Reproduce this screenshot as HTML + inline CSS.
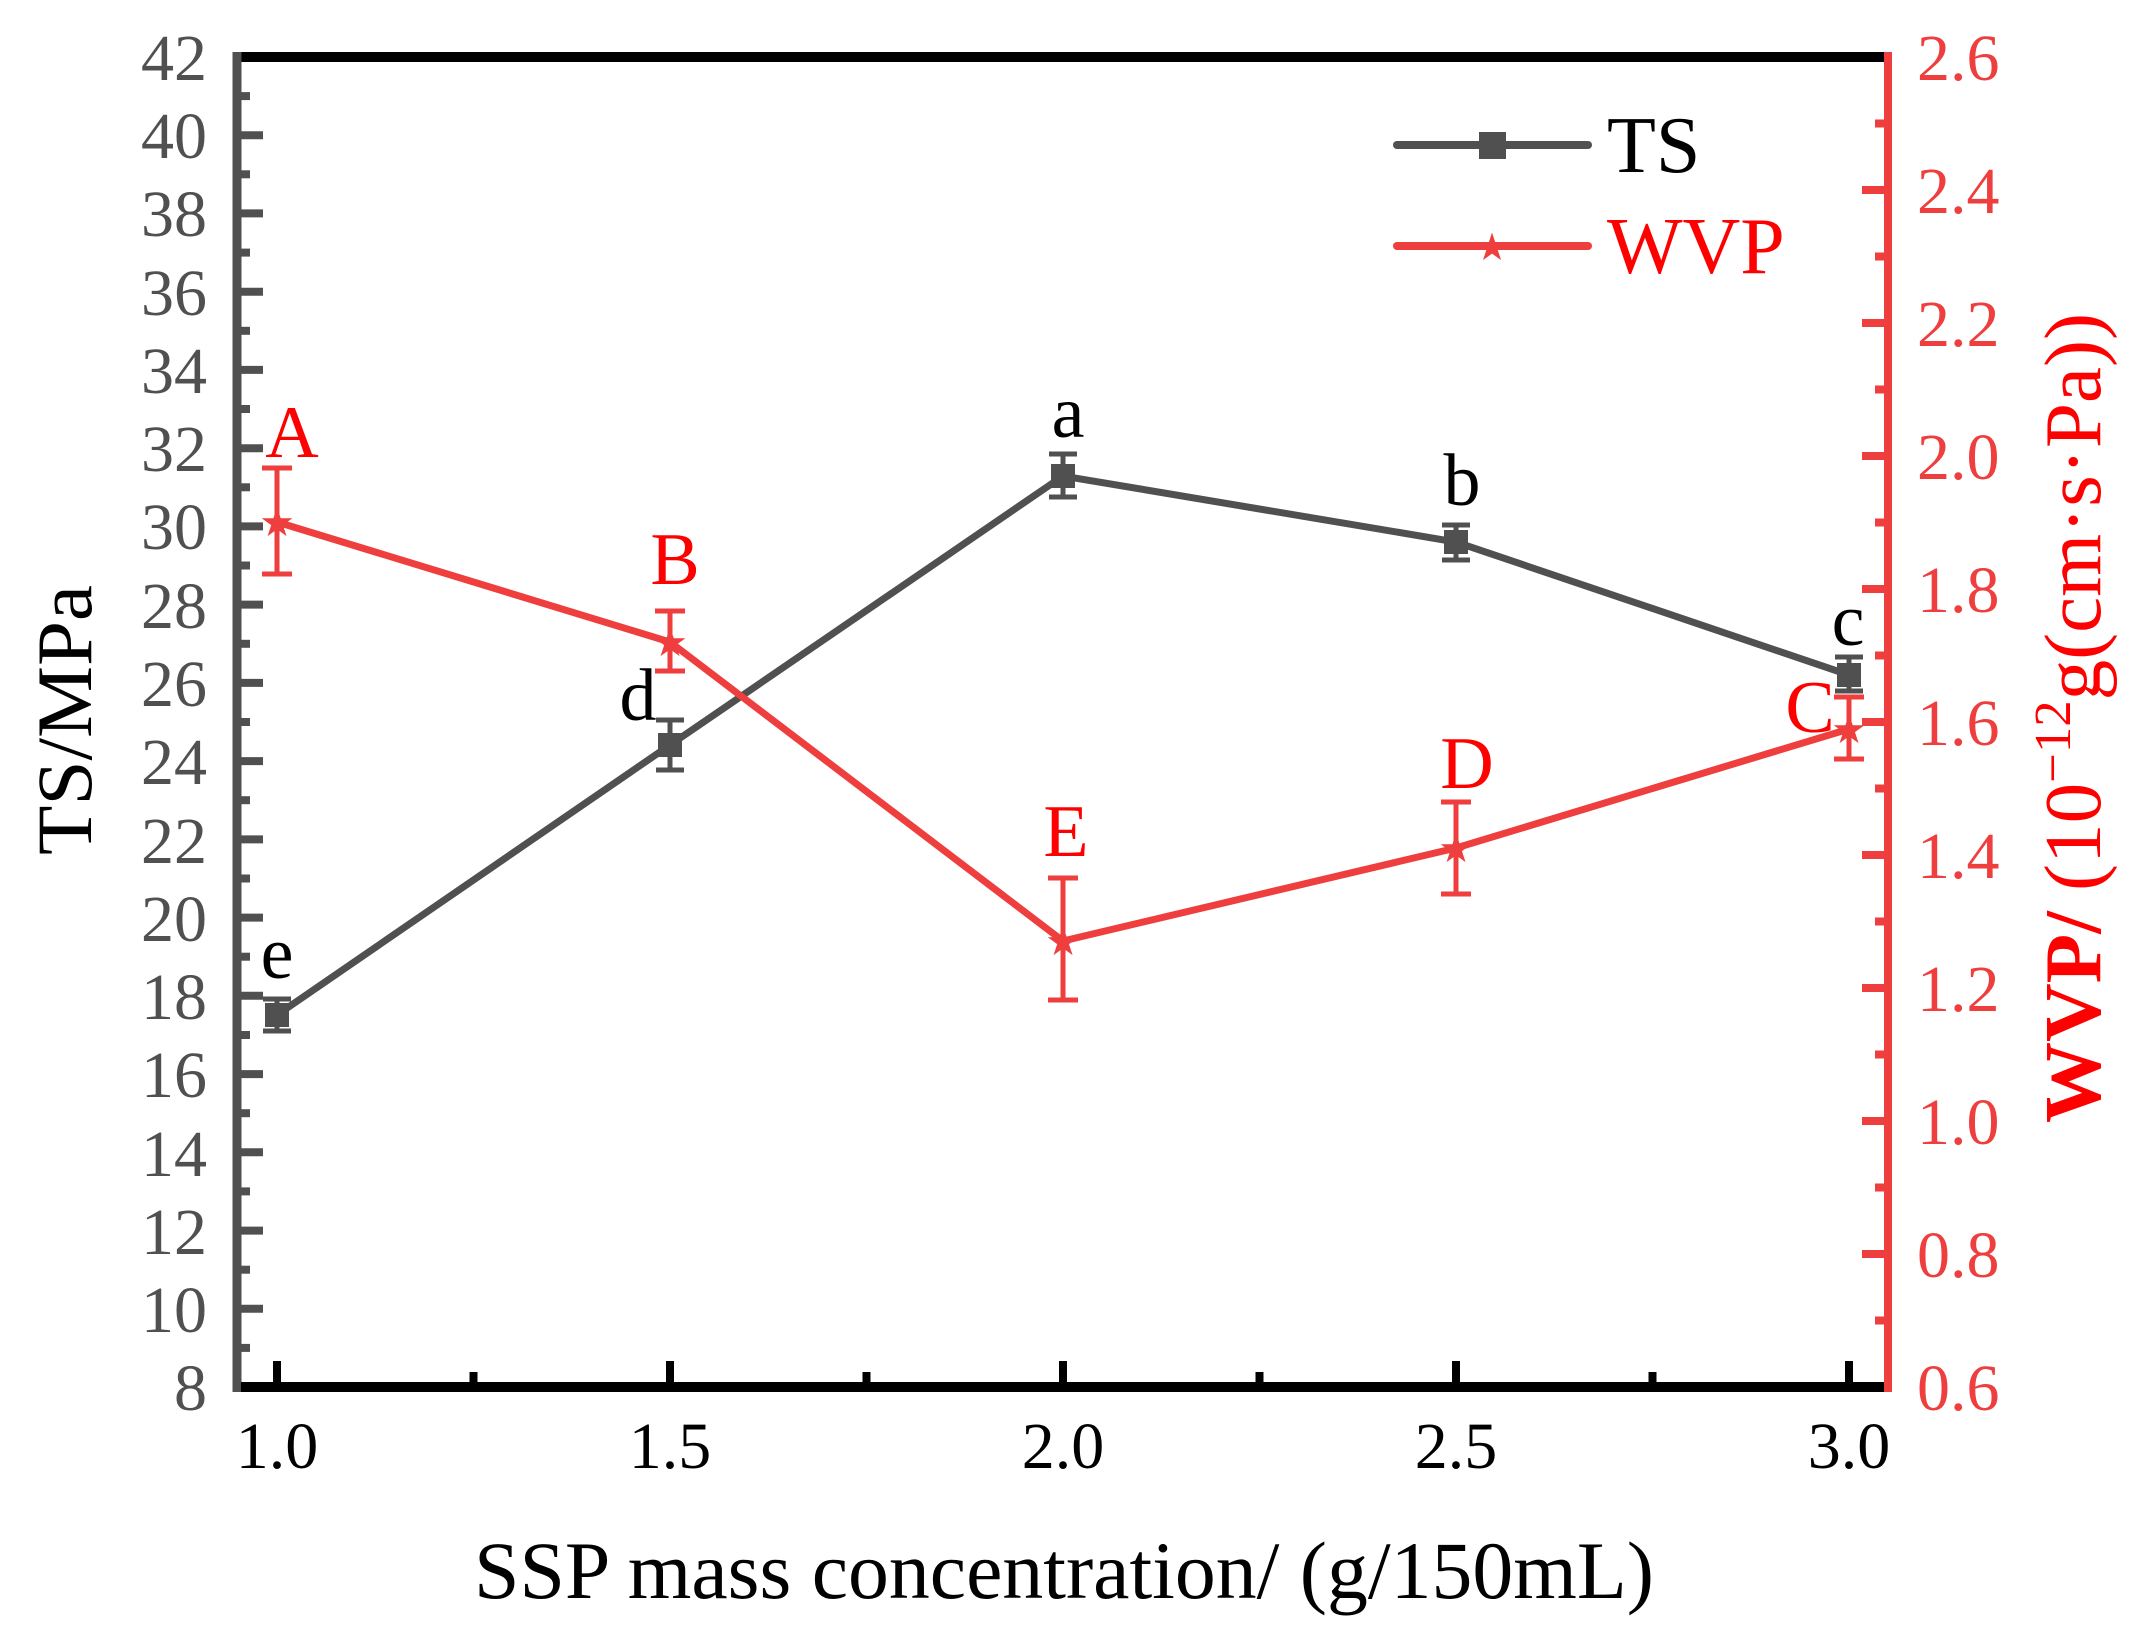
<!DOCTYPE html>
<html><head><meta charset="utf-8"><style>
html,body{margin:0;padding:0;background:#fff;}
svg{display:block;}
text{font-family:"Liberation Serif",serif;}
</style></head><body>
<svg width="2138" height="1638" viewBox="0 0 2138 1638" xmlns="http://www.w3.org/2000/svg">
<rect width="2138" height="1638" fill="#fff"/>
<line x1="233" y1="57" x2="1892" y2="57" stroke="#000" stroke-width="10"/>
<line x1="237" y1="52" x2="237" y2="1392" stroke="#505050" stroke-width="9"/>
<line x1="241" y1="1387" x2="1888" y2="1387" stroke="#000" stroke-width="10"/>
<line x1="1888" y1="52" x2="1888" y2="1392" stroke="#ee3e3e" stroke-width="8"/>
<g stroke="#505050" stroke-width="8">
<line x1="241" y1="135.2" x2="263" y2="135.2"/><line x1="241" y1="213.4" x2="263" y2="213.4"/><line x1="241" y1="291.7" x2="263" y2="291.7"/><line x1="241" y1="369.9" x2="263" y2="369.9"/><line x1="241" y1="448.2" x2="263" y2="448.2"/><line x1="241" y1="526.4" x2="263" y2="526.4"/><line x1="241" y1="604.6" x2="263" y2="604.6"/><line x1="241" y1="682.9" x2="263" y2="682.9"/><line x1="241" y1="761.1" x2="263" y2="761.1"/><line x1="241" y1="839.4" x2="263" y2="839.4"/><line x1="241" y1="917.6" x2="263" y2="917.6"/><line x1="241" y1="995.8" x2="263" y2="995.8"/><line x1="241" y1="1074.1" x2="263" y2="1074.1"/><line x1="241" y1="1152.3" x2="263" y2="1152.3"/><line x1="241" y1="1230.6" x2="263" y2="1230.6"/><line x1="241" y1="1308.8" x2="263" y2="1308.8"/>
<line x1="241" y1="96.1" x2="250" y2="96.1"/><line x1="241" y1="174.3" x2="250" y2="174.3"/><line x1="241" y1="252.6" x2="250" y2="252.6"/><line x1="241" y1="330.8" x2="250" y2="330.8"/><line x1="241" y1="409.0" x2="250" y2="409.0"/><line x1="241" y1="487.3" x2="250" y2="487.3"/><line x1="241" y1="565.5" x2="250" y2="565.5"/><line x1="241" y1="643.8" x2="250" y2="643.8"/><line x1="241" y1="722.0" x2="250" y2="722.0"/><line x1="241" y1="800.2" x2="250" y2="800.2"/><line x1="241" y1="878.5" x2="250" y2="878.5"/><line x1="241" y1="956.7" x2="250" y2="956.7"/><line x1="241" y1="1035.0" x2="250" y2="1035.0"/><line x1="241" y1="1113.2" x2="250" y2="1113.2"/><line x1="241" y1="1191.4" x2="250" y2="1191.4"/><line x1="241" y1="1269.7" x2="250" y2="1269.7"/><line x1="241" y1="1347.9" x2="250" y2="1347.9"/>
</g>
<g stroke="#ee3e3e" stroke-width="8">
<line x1="1884" y1="190" x2="1862" y2="190"/><line x1="1884" y1="323" x2="1862" y2="323"/><line x1="1884" y1="456" x2="1862" y2="456"/><line x1="1884" y1="589" x2="1862" y2="589"/><line x1="1884" y1="722" x2="1862" y2="722"/><line x1="1884" y1="855" x2="1862" y2="855"/><line x1="1884" y1="988" x2="1862" y2="988"/><line x1="1884" y1="1121" x2="1862" y2="1121"/><line x1="1884" y1="1254" x2="1862" y2="1254"/>
<line x1="1884" y1="123.5" x2="1875" y2="123.5"/><line x1="1884" y1="256.5" x2="1875" y2="256.5"/><line x1="1884" y1="389.5" x2="1875" y2="389.5"/><line x1="1884" y1="522.5" x2="1875" y2="522.5"/><line x1="1884" y1="655.5" x2="1875" y2="655.5"/><line x1="1884" y1="788.5" x2="1875" y2="788.5"/><line x1="1884" y1="921.5" x2="1875" y2="921.5"/><line x1="1884" y1="1054.5" x2="1875" y2="1054.5"/><line x1="1884" y1="1187.5" x2="1875" y2="1187.5"/><line x1="1884" y1="1320.5" x2="1875" y2="1320.5"/>
</g>
<g stroke="#000" stroke-width="8">
<line x1="277" y1="1382" x2="277" y2="1361"/><line x1="670" y1="1382" x2="670" y2="1361"/><line x1="1063" y1="1382" x2="1063" y2="1361"/><line x1="1456" y1="1382" x2="1456" y2="1361"/><line x1="1849" y1="1382" x2="1849" y2="1361"/>
<line x1="473.5" y1="1382" x2="473.5" y2="1372"/><line x1="866.5" y1="1382" x2="866.5" y2="1372"/><line x1="1259.5" y1="1382" x2="1259.5" y2="1372"/><line x1="1652.5" y1="1382" x2="1652.5" y2="1372"/>
</g>
<g fill="#505050" font-size="66" text-anchor="end">
<text x="207" y="80">42</text><text x="207" y="158">40</text><text x="207" y="236">38</text><text x="207" y="315">36</text><text x="207" y="393">34</text><text x="207" y="471">32</text><text x="207" y="549">30</text><text x="207" y="628">28</text><text x="207" y="706">26</text><text x="207" y="784">24</text><text x="207" y="863">22</text><text x="207" y="941">20</text><text x="207" y="1019">18</text><text x="207" y="1097">16</text><text x="207" y="1176">14</text><text x="207" y="1254">12</text><text x="207" y="1332">10</text><text x="207" y="1410">8</text>
</g>
<g fill="#ee3e3e" font-size="66">
<text x="1917" y="80">2.6</text><text x="1917" y="213">2.4</text><text x="1917" y="346">2.2</text><text x="1917" y="479">2.0</text><text x="1917" y="612">1.8</text><text x="1917" y="745">1.6</text><text x="1917" y="878">1.4</text><text x="1917" y="1011">1.2</text><text x="1917" y="1144">1.0</text><text x="1917" y="1277">0.8</text><text x="1917" y="1410">0.6</text>
</g>
<g fill="#000" font-size="66" text-anchor="middle">
<text x="277" y="1468">1.0</text><text x="670" y="1468">1.5</text><text x="1063" y="1468">2.0</text><text x="1456" y="1468">2.5</text><text x="1849" y="1468">3.0</text>
</g>
<text x="474" y="1598" font-size="82" fill="#000" textLength="1180" lengthAdjust="spacingAndGlyphs">SSP mass concentration/ (g/150mL)</text>
<text transform="translate(91,855) rotate(-90)" font-size="78" fill="#000" textLength="270" lengthAdjust="spacingAndGlyphs">TS/MPa</text>
<text transform="translate(2100,1123) rotate(-90)" font-size="80" fill="#ff0000" textLength="810" lengthAdjust="spacingAndGlyphs"><tspan font-weight="bold">WVP/ </tspan>(10<tspan font-size="52" dy="-30">−12</tspan><tspan dy="30">g(cm·s·Pa))</tspan></text>
<polyline points="277,1015 670,745 1063,476 1456,542 1849,675" fill="none" stroke="#505050" stroke-width="7"/>
<g stroke="#505050" stroke-width="5">
<line x1="277" y1="999" x2="277" y2="1031"/><line x1="263" y1="999" x2="291" y2="999"/><line x1="263" y1="1031" x2="291" y2="1031"/>
<line x1="670" y1="720" x2="670" y2="770"/><line x1="656" y1="720" x2="684" y2="720"/><line x1="656" y1="770" x2="684" y2="770"/>
<line x1="1063" y1="454" x2="1063" y2="497"/><line x1="1049" y1="454" x2="1077" y2="454"/><line x1="1049" y1="497" x2="1077" y2="497"/>
<line x1="1456" y1="525" x2="1456" y2="560"/><line x1="1442" y1="525" x2="1470" y2="525"/><line x1="1442" y1="560" x2="1470" y2="560"/>
<line x1="1849" y1="657" x2="1849" y2="691"/><line x1="1835" y1="657" x2="1863" y2="657"/><line x1="1835" y1="691" x2="1863" y2="691"/>
</g>
<g fill="#505050">
<rect x="265" y="1003" width="24" height="24"/><rect x="658" y="733" width="24" height="24"/><rect x="1051" y="464" width="24" height="24"/><rect x="1444" y="530" width="24" height="24"/><rect x="1837" y="663" width="24" height="24"/>
</g>
<polyline points="277,522 670,642 1063,941 1456,848 1849,729" fill="none" stroke="#ee3e3e" stroke-width="7"/>
<g stroke="#ee3e3e" stroke-width="5">
<line x1="277" y1="468" x2="277" y2="574"/><line x1="262" y1="468" x2="292" y2="468"/><line x1="262" y1="574" x2="292" y2="574"/>
<line x1="670" y1="611" x2="670" y2="671"/><line x1="655" y1="611" x2="685" y2="611"/><line x1="655" y1="671" x2="685" y2="671"/>
<line x1="1063" y1="878" x2="1063" y2="1000"/><line x1="1048" y1="878" x2="1078" y2="878"/><line x1="1048" y1="1000" x2="1078" y2="1000"/>
<line x1="1456" y1="802" x2="1456" y2="894"/><line x1="1441" y1="802" x2="1471" y2="802"/><line x1="1441" y1="894" x2="1471" y2="894"/>
<line x1="1849" y1="697" x2="1849" y2="759"/><line x1="1834" y1="697" x2="1864" y2="697"/><line x1="1834" y1="759" x2="1864" y2="759"/>
</g>
<g fill="#ee3e3e" font-size="40" text-anchor="middle" font-family="DejaVu Sans">
<text x="277" y="536">★</text><text x="670" y="656">★</text><text x="1063" y="955">★</text><text x="1456" y="862">★</text><text x="1849" y="743">★</text>
</g>
<g fill="#000" font-size="74" text-anchor="middle">
<text x="277" y="978">e</text><text x="638" y="720">d</text><text x="1068" y="437">a</text><text x="1462" y="505">b</text><text x="1848" y="645">c</text>
</g>
<g fill="#ff0000" font-size="74" text-anchor="middle">
<text x="292" y="457">A</text><text x="675" y="584">B</text><text x="1066" y="856">E</text><text x="1467" y="788">D</text><text x="1810" y="732">C</text>
</g>
<line x1="1397" y1="145" x2="1588" y2="145" stroke="#505050" stroke-width="8" stroke-linecap="round"/>
<rect x="1479" y="132" width="27" height="27" fill="#505050"/>
<text x="1607" y="172" font-size="80" fill="#000">TS</text>
<line x1="1397" y1="246" x2="1588" y2="246" stroke="#ee3e3e" stroke-width="8" stroke-linecap="round"/>
<text x="1492" y="260" font-size="38" fill="#ee3e3e" text-anchor="middle" font-family="DejaVu Sans">★</text>
<text x="1607" y="273" font-size="80" fill="#ff0000">WVP</text>
</svg>
</body></html>
